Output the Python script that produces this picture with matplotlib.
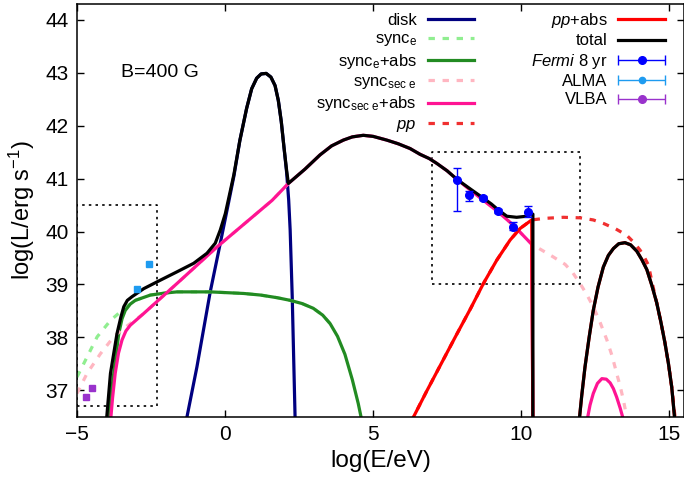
import numpy as np
import matplotlib
matplotlib.use("Agg")
import matplotlib.pyplot as plt
from matplotlib.legend_handler import HandlerErrorbar

plt.rcParams['font.family'] = ['Liberation Sans', 'DejaVu Sans']
plt.rcParams['mathtext.fontset'] = 'custom'
plt.rcParams['mathtext.rm'] = 'Liberation Sans'
plt.rcParams['mathtext.it'] = 'Liberation Sans:italic'

# ---- data: log(E/eV) vs log(L/erg s^-1) ----
disk_x = [-1.32, -0.95, -0.50, -0.16, 0.12, 0.30, 0.50, 0.73, 0.90, 1.07, 1.22, 1.39, 1.55, 1.69, 1.80,
          1.90, 1.99, 2.08, 2.15, 2.20, 2.27, 2.37]
disk_y = [36.4, 37.44, 38.86, 39.78, 40.55, 41.05, 41.72, 42.33, 42.70, 42.90, 42.98, 42.99, 42.92, 42.76, 42.48,
          42.08, 41.60, 41.12, 40.60, 40.03, 38.77, 36.4]

synce_x = [-5.0, -4.66, -4.32, -3.87, -3.48, -3.25, -3.03, -2.52, -2.0, -1.62, -0.50, 0.63, 1.20, 1.76, 2.20,
           2.60, 2.98, 3.30, 3.55]
synce_y = [37.25, 37.63, 38.01, 38.32, 38.51, 38.62, 38.70, 38.80, 38.84, 38.86, 38.86, 38.83, 38.80, 38.75, 38.70,
           38.64, 38.55, 38.42, 38.26]

synce_abs_x = [-3.96, -3.86, -3.76, -3.59, -3.48, -3.37, -3.20, -3.03, -2.52, -2.0, -1.62, -0.50, 0.63, 1.20,
               1.76, 2.20, 2.60, 2.98, 3.30, 3.55, 3.80, 4.05, 4.30, 4.50, 4.63]
synce_abs_y = [36.4, 36.85, 37.32, 38.07, 38.35, 38.51, 38.63, 38.70, 38.80, 38.84, 38.86, 38.86, 38.83, 38.80,
               38.75, 38.70, 38.64, 38.55, 38.42, 38.26, 38.02, 37.68, 37.20, 36.75, 36.4]

syncsec_x = [-5.0, -4.66, -4.21, -3.76, -3.45, -3.20, -2.75, -1.62, -0.27, 1.59, 2.14, 2.70, 3.21, 3.60, 4.00,
             4.30, 4.67, 5.00, 5.46, 5.85, 6.25, 6.59, 6.90, 7.15, 7.50, 7.85, 8.30, 8.73, 9.23, 9.74, 10.36,
             10.70, 11.09, 11.49, 11.75, 11.99, 12.20, 12.44, 12.68, 12.90, 13.08, 13.23, 13.36, 13.46, 13.60]
syncsec_y = [36.94, 37.32, 37.69, 38.01, 38.16, 38.26, 38.45, 39.02, 39.71, 40.59, 40.91, 41.18, 41.45, 41.62, 41.73,
             41.79, 41.82, 41.80, 41.73, 41.66, 41.57, 41.46, 41.38, 41.29, 41.15, 40.98, 40.78, 40.59, 40.37, 40.12,
             39.76, 39.65, 39.52, 39.38, 39.22, 39.02, 38.83, 38.58, 38.27, 37.95, 37.64, 37.32, 37.05, 36.81, 36.4]

syncsec_abs_x = [-3.87, -3.80, -3.71, -3.60, -3.48, -3.35, -3.20, -2.75, -1.62, -0.27, 1.59, 2.14, 2.70, 3.21,
                 3.60, 4.00, 4.30, 4.67, 5.00, 5.46, 5.85, 6.25, 6.59, 6.90, 7.15, 7.50, 7.85, 8.30, 8.73, 9.23,
                 9.74, 10.36, 10.40]
syncsec_abs_y = [36.4, 36.85, 37.32, 37.70, 37.95, 38.12, 38.23, 38.45, 39.02, 39.71, 40.59, 40.91, 41.18, 41.45,
                 41.62, 41.73, 41.79, 41.82, 41.80, 41.73, 41.66, 41.57, 41.46, 41.38, 41.29, 41.15, 40.98, 40.78,
                 40.59, 40.37, 40.12, 39.76, 36.4]
syncsec_abs_bump_x = [12.22, 12.33, 12.44, 12.58, 12.73, 12.88, 13.01, 13.12, 13.23, 13.35, 13.48]
syncsec_abs_bump_y = [36.4, 36.72, 36.94, 37.13, 37.22, 37.21, 37.14, 37.03, 36.87, 36.66, 36.4]

pp_x = [6.28, 6.80, 7.30, 7.80, 8.30, 8.73, 9.18, 9.63, 9.97, 10.36, 10.80, 11.43, 12.00, 12.44, 12.80, 13.20,
        13.57, 13.80, 14.02, 14.16, 14.30, 14.45, 14.58, 14.72, 14.86, 14.98, 15.09, 15.22]
pp_y = [36.4, 36.97, 37.50, 38.03, 38.55, 39.02, 39.46, 39.84, 40.06, 40.22, 40.25, 40.27, 40.26, 40.22, 40.15, 40.05,
        39.93, 39.80, 39.65, 39.52, 39.37, 38.98, 38.66, 38.30, 37.90, 37.50, 37.06, 36.4]

ppabs_x = [6.28, 6.80, 7.30, 7.80, 8.30, 8.73, 9.18, 9.63, 9.97, 10.36, 10.40]
ppabs_y = [36.4, 36.97, 37.50, 38.03, 38.55, 39.02, 39.46, 39.84, 40.06, 40.22, 36.4]

total_x = [-4.01, -3.87, -3.65, -3.52, -3.42, -3.30, -3.14, -2.75, -2.19, -1.62, -1.06, -0.61, -0.33, -0.16,
           0.01, 0.12, 0.30, 0.50, 0.73, 0.90, 1.07, 1.22, 1.39, 1.55, 1.69, 1.80, 1.90, 1.99, 2.08, 2.14,
           2.70, 3.21, 3.60, 4.00, 4.30, 4.67, 5.00, 5.46, 5.85, 6.25, 6.59, 6.90, 7.15, 7.50, 7.85, 8.30,
           8.73, 9.00, 9.23, 9.52, 9.85, 10.19, 10.36, 10.40, 10.40]
total_y = [36.4, 37.32, 38.07, 38.38, 38.58, 38.70, 38.77, 38.92, 39.08, 39.24, 39.40, 39.59, 39.78, 40.03,
           40.34, 40.62, 41.08, 41.72, 42.33, 42.70, 42.90, 42.98, 42.99, 42.92, 42.76, 42.48, 42.08, 41.60, 41.16, 40.91,
           41.18, 41.45, 41.62, 41.73, 41.79, 41.82, 41.80, 41.73, 41.66, 41.57, 41.46, 41.38, 41.29, 41.15, 40.98, 40.80,
           40.63, 40.52, 40.41, 40.29, 40.27, 40.29, 40.33, 40.33, 36.4]
bump_x = [11.96, 12.05, 12.16, 12.30, 12.44, 12.60, 12.78, 12.95, 13.12, 13.30, 13.51, 13.70, 13.91, 14.08,
          14.25, 14.42, 14.58, 14.72, 14.86, 14.98, 15.09, 15.20]
bump_y = [36.4, 36.90, 37.44, 38.00, 38.51, 38.95, 39.33, 39.55, 39.68, 39.77, 39.79, 39.75, 39.63, 39.47,
          39.28, 38.98, 38.66, 38.30, 37.90, 37.50, 37.06, 36.4]

fermi_x = [7.85, 8.23, 8.73, 9.23, 9.74, 10.24]
fermi_y = [40.98, 40.70, 40.63, 40.39, 40.08, 40.37]
fermi_lo = [40.39, 40.58, 40.59, 40.35, 40.03, 40.27]
fermi_hi = [41.21, 40.77, 40.67, 40.43, 40.19, 40.49]

alma_x = [-2.97, -2.56]
alma_y = [38.91, 39.38]
vlba_x = [-4.70, -4.48]
vlba_y = [36.87, 37.05]

box1_x = [-5.0, -2.3]
box1_y = [36.7, 40.5]
box2_x = [7.0, 12.0]
box2_y = [39.0, 41.5]

LW = 2.3
DASH = (2.0, 2.4)


def draw_box(ax, bx, by):
    xs = [bx[0], bx[1], bx[1], bx[0], bx[0]]
    ys = [by[0], by[0], by[1], by[1], by[0]]
    ax.plot(xs, ys, color='black', lw=1.2, ls=(0, (1.5, 2.5)), zorder=1)


def main():
    fig = plt.figure(figsize=(6.84, 4.84), dpi=100)
    ax = fig.add_axes([0.1126, 0.139, 0.8872, 0.8525])

    draw_box(ax, box1_x, box1_y)
    draw_box(ax, box2_x, box2_y)

    h = []
    h += ax.plot(disk_x, disk_y, color='#000080', lw=LW, label='disk')
    h += ax.plot(synce_x, synce_y, color='#90ee90', lw=LW, dashes=DASH, label='sync$_\\mathrm{e}$')
    h += ax.plot(synce_abs_x, synce_abs_y, color='#228b22', lw=LW, label='sync$_\\mathrm{e}$+abs')
    h += ax.plot(syncsec_x, syncsec_y, color='#ffb6c1', lw=LW, dashes=DASH, label='sync$_\\mathrm{sec\\ e}$')
    h += ax.plot(syncsec_abs_x, syncsec_abs_y, color='#ff1493', lw=LW, label='sync$_\\mathrm{sec\\ e}$+abs')
    ax.plot(syncsec_abs_bump_x, syncsec_abs_bump_y, color='#ff1493', lw=LW)
    h += ax.plot(pp_x, pp_y, color='#f03030', lw=LW, dashes=DASH, label='$pp$')
    h += ax.plot(ppabs_x, ppabs_y, color='#ff0000', lw=LW, label='$pp$+abs')
    ax.plot(bump_x, bump_y, color='#ff0000', lw=LW)
    h += ax.plot(total_x, total_y, color='black', lw=LW, label='total')
    ax.plot(bump_x, bump_y, color='black', lw=LW)

    ferr = [np.array(fermi_y) - np.array(fermi_lo), np.array(fermi_hi) - np.array(fermi_y)]
    ax.errorbar(fermi_x, fermi_y, yerr=ferr, fmt='o', color='#0000ff', ms=5.5, elinewidth=1, capsize=3, zorder=5)
    ax.plot(alma_x, alma_y, 's', color='#1e9bf0', ms=4, zorder=5)
    ax.plot(vlba_x, vlba_y, 's', color='#9932cc', ms=4.5, zorder=5)

    # legend proxies for the data sets (gnuplot-like horizontal bar keys)
    pf = ax.errorbar([np.nan], [np.nan], xerr=[1], fmt='o', color='#0000ff', ms=5.5, elinewidth=1, capsize=3.5,
                     label='$\\it{Fermi}$ 8 yr')
    pa = ax.errorbar([np.nan], [np.nan], xerr=[1], fmt='o', color='#1e9bf0', ms=4.5, elinewidth=1, capsize=3.5,
                     label='ALMA')
    pv = ax.errorbar([np.nan], [np.nan], xerr=[1], fmt='o', color='#9932cc', ms=5.5, elinewidth=1, capsize=3.5,
                     label='VLBA')
    h += [pf, pa, pv]

    ax.legend(handles=h, ncol=2, markerfirst=False, frameon=False, fontsize=12,
              loc='upper right', bbox_to_anchor=(0.969, 0.983), borderaxespad=0, borderpad=0,
              handlelength=2.8, handletextpad=0.65, columnspacing=3.4, labelspacing=0.2,
              handler_map={type(pf): HandlerErrorbar(xerr_size=1.4)})

    ax.text(-3.5, 43.0, 'B=400 G', fontsize=14, va='center', ha='left')

    ax.set_xlim(-5, 15.5)
    ax.set_ylim(36.5, 44.3)
    ax.set_xticks([-5, 0, 5, 10, 15])
    ax.set_yticks([37, 38, 39, 40, 41, 42, 43, 44])
    ax.tick_params(direction='in', top=True, right=True, length=5, width=1, labelsize=15, pad=6)
    for s in ax.spines.values():
        s.set_linewidth(1.1)
    ax.set_xlabel('log(E/eV)', fontsize=17.5, labelpad=4)
    ax.set_ylabel('log(L/erg s$^{-1}$)', fontsize=17, labelpad=6)

    fig.savefig('out.png', dpi=100)


if __name__ == "__main__":
    main()
